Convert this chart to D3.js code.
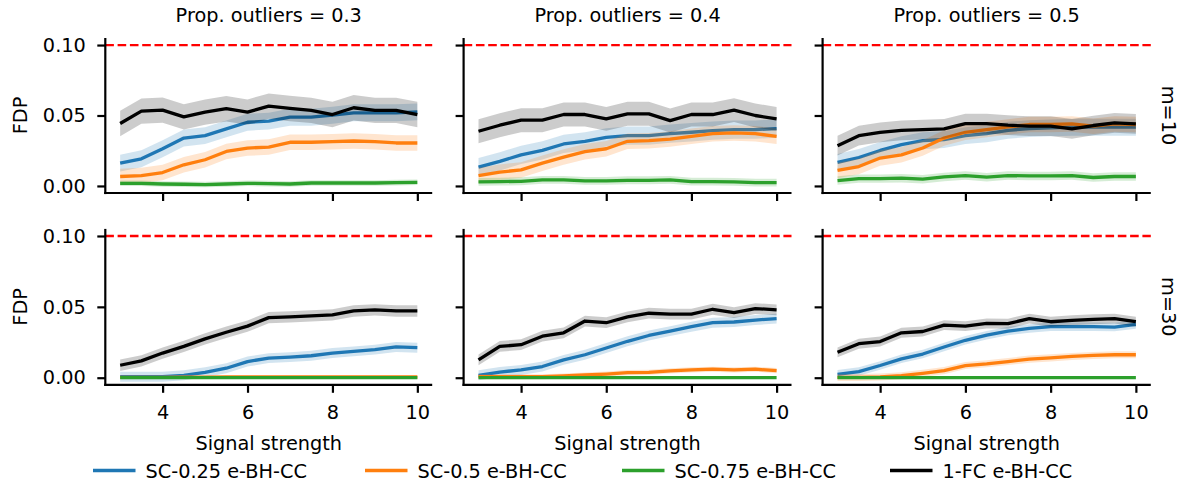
<!DOCTYPE html>
<html>
<head>
<meta charset="utf-8">
<script src="https://cdn.jsdelivr.net/npm/d3@7"></script>
<style>
  html, body { margin: 0; padding: 0; background: #fff; }
  svg { display: block; font-family: "DejaVu Sans", sans-serif; }
</style>
</head>
<body>
<svg id="chart" width="1188" height="488"></svg>
<script>
// ---------------- data ----------------
const signal = [3, 3.5, 4, 4.5, 5, 5.5, 6, 6.5, 7, 7.5, 8, 8.5, 9, 9.5, 10];
const propOutliers = ["0.3", "0.4", "0.5"];
const mValues = ["m=10", "m=30"];
const seriesNames = ["SC-0.25 e-BH-CC", "SC-0.5 e-BH-CC", "SC-0.75 e-BH-CC", "1-FC e-BH-CC"];
const seriesColors = ["#1f77b4", "#ff7f0e", "#2ca02c", "#000000"];
const xTicks = [4, 6, 8, 10];
const yTicks = [0.00, 0.05, 0.10];
const alphaLevel = 0.1;

// m=10, prop 0.3
const m10p3_sc025 = [0.0162, 0.0193, 0.0264, 0.0340, 0.0357, 0.0405, 0.0452, 0.0460, 0.0488, 0.0488, 0.0502, 0.0519, 0.0519, 0.0519, 0.0526];
const m10p3_sc05  = [0.0067, 0.0074, 0.0095, 0.0150, 0.0186, 0.0245, 0.0269, 0.0276, 0.0310, 0.0310, 0.0314, 0.0319, 0.0314, 0.0305, 0.0305];
const m10p3_sc075 = [0.0019, 0.0019, 0.0014, 0.0012, 0.0010, 0.0014, 0.0019, 0.0017, 0.0014, 0.0021, 0.0021, 0.0021, 0.0021, 0.0024, 0.0026];
const m10p3_fc    = [0.0443, 0.0531, 0.0538, 0.0490, 0.0524, 0.0548, 0.0524, 0.0567, 0.0550, 0.0536, 0.0507, 0.0555, 0.0536, 0.0536, 0.0507];
// m=10, prop 0.4
const m10p4_sc025 = [0.0133, 0.0174, 0.0221, 0.0252, 0.0298, 0.0317, 0.0345, 0.0357, 0.0357, 0.0371, 0.0381, 0.0393, 0.0400, 0.0400, 0.0407];
const m10p4_sc05  = [0.0074, 0.0098, 0.0114, 0.0162, 0.0205, 0.0243, 0.0264, 0.0317, 0.0321, 0.0333, 0.0352, 0.0371, 0.0376, 0.0371, 0.0352];
const m10p4_sc075 = [0.0029, 0.0031, 0.0033, 0.0043, 0.0043, 0.0036, 0.0036, 0.0040, 0.0040, 0.0043, 0.0031, 0.0031, 0.0029, 0.0024, 0.0024];
const m10p4_fc    = [0.0388, 0.0431, 0.0467, 0.0467, 0.0507, 0.0507, 0.0476, 0.0512, 0.0512, 0.0464, 0.0507, 0.0507, 0.0538, 0.0500, 0.0476];
// m=10, prop 0.5
const m10p5_sc025 = [0.0167, 0.0202, 0.0252, 0.0293, 0.0321, 0.0329, 0.0357, 0.0371, 0.0395, 0.0407, 0.0412, 0.0417, 0.0417, 0.0417, 0.0417];
const m10p5_sc05  = [0.0110, 0.0138, 0.0198, 0.0221, 0.0269, 0.0340, 0.0381, 0.0400, 0.0419, 0.0436, 0.0436, 0.0440, 0.0424, 0.0440, 0.0436];
const m10p5_sc075 = [0.0038, 0.0052, 0.0052, 0.0055, 0.0048, 0.0064, 0.0074, 0.0062, 0.0074, 0.0071, 0.0071, 0.0074, 0.0060, 0.0067, 0.0067];
const m10p5_fc    = [0.0286, 0.0357, 0.0381, 0.0395, 0.0400, 0.0405, 0.0443, 0.0443, 0.0431, 0.0424, 0.0424, 0.0405, 0.0429, 0.0448, 0.0440];
// m=30, prop 0.3
const m30p3_sc025 = [0.0007, 0.0007, 0.0007, 0.0017, 0.0038, 0.0067, 0.0114, 0.0138, 0.0145, 0.0155, 0.0174, 0.0186, 0.0198, 0.0217, 0.0212];
const m30p3_sc05  = [0.0003, 0.0003, 0.0003, 0.0004, 0.0004, 0.0005, 0.0005, 0.0005, 0.0005, 0.0005, 0.0005, 0.0005, 0.0005, 0.0005, 0.0005];
const m30p3_sc075 = [0, 0, 0, 0, 0, 0, 0, 0, 0, 0, 0, 0, 0, 0, 0];
const m30p3_fc    = [0.0088, 0.0119, 0.0174, 0.0221, 0.0274, 0.0321, 0.0364, 0.0424, 0.0429, 0.0436, 0.0443, 0.0471, 0.0479, 0.0471, 0.0471];
// m=30, prop 0.4
const m30p4_sc025 = [0.0017, 0.0040, 0.0055, 0.0079, 0.0126, 0.0162, 0.0210, 0.0257, 0.0298, 0.0329, 0.0360, 0.0388, 0.0393, 0.0407, 0.0417];
const m30p4_sc05  = [0.0007, 0.0007, 0.0007, 0.0007, 0.0012, 0.0019, 0.0026, 0.0036, 0.0038, 0.0048, 0.0055, 0.0060, 0.0055, 0.0060, 0.0050];
const m30p4_sc075 = [0, 0, 0, 0, 0, 0, 0, 0, 0, 0, 0, 0, 0, 0, 0];
const m30p4_fc    = [0.0126, 0.0221, 0.0233, 0.0293, 0.0317, 0.0400, 0.0388, 0.0429, 0.0455, 0.0448, 0.0448, 0.0483, 0.0460, 0.0488, 0.0479];
// m=30, prop 0.5
const m30p5_sc025 = [0.0024, 0.0043, 0.0086, 0.0133, 0.0167, 0.0217, 0.0264, 0.0300, 0.0329, 0.0348, 0.0360, 0.0360, 0.0360, 0.0357, 0.0376];
const m30p5_sc05  = [0.0002, 0.0002, 0.0005, 0.0014, 0.0031, 0.0050, 0.0086, 0.0098, 0.0114, 0.0131, 0.0140, 0.0150, 0.0157, 0.0162, 0.0162];
const m30p5_sc075 = [0, 0, 0, 0, 0, 0, 0, 0, 0, 0, 0, 0, 0, 0, 0];
const m30p5_fc    = [0.0179, 0.0240, 0.0255, 0.0317, 0.0326, 0.0371, 0.0364, 0.0383, 0.0381, 0.0417, 0.0395, 0.0405, 0.0412, 0.0417, 0.0395];

// confidence band half-widths per panel, per series (blue, orange, green, black)
const band_m10p3 = [0.0060, 0.0055, 0.0020, 0.0090];
const band_m10p4 = [0.0065, 0.0055, 0.0028, 0.0085];
const band_m10p5 = [0.0060, 0.0055, 0.0030, 0.0070];
const band_m30p3 = [0.0035, 0.0008, 0.0000, 0.0040];
const band_m30p4 = [0.0035, 0.0018, 0.0000, 0.0038];
const band_m30p5 = [0.0030, 0.0025, 0.0000, 0.0035];

const panels = [
  { row: 0, col: 0, series: [m10p3_sc025, m10p3_sc05, m10p3_sc075, m10p3_fc], band: band_m10p3 },
  { row: 0, col: 1, series: [m10p4_sc025, m10p4_sc05, m10p4_sc075, m10p4_fc], band: band_m10p4 },
  { row: 0, col: 2, series: [m10p5_sc025, m10p5_sc05, m10p5_sc075, m10p5_fc], band: band_m10p5 },
  { row: 1, col: 0, series: [m30p3_sc025, m30p3_sc05, m30p3_sc075, m30p3_fc], band: band_m30p3 },
  { row: 1, col: 1, series: [m30p4_sc025, m30p4_sc05, m30p4_sc075, m30p4_fc], band: band_m30p4 },
  { row: 1, col: 2, series: [m30p5_sc025, m30p5_sc05, m30p5_sc075, m30p5_fc], band: band_m30p5 },
];

// ---------------- layout ----------------
const colX = [[105.3, 432.2], [463.6, 791.5], [822.6, 1150.8]];
const rowY = [[193.0, 38.0], [384.8, 228.9]];
const xDomain = [2.65, 10.35];
const yDomain = [-0.005, 0.105];
const fontSize = 19.3;

const svg = d3.select("#chart");

panels.forEach(p => {
  const x = d3.scaleLinear().domain(xDomain).range(colX[p.col]);
  const y = d3.scaleLinear().domain(yDomain).range(rowY[p.row]);
  const g = svg.append("g");

  // reference line
  g.append("line")
    .attr("x1", x(xDomain[0])).attr("x2", x(xDomain[1]))
    .attr("y1", y(alphaLevel)).attr("y2", y(alphaLevel))
    .attr("stroke", "#ff0000").attr("stroke-width", 2.3)
    .attr("stroke-dasharray", "8.6,3.7");

  p.series.forEach((vals, si) => {
    const e = p.band[si];
    const pts = signal.map((s, i) => ({ s, v: vals[i] }));
    if (e > 0) {
      const area = d3.area()
        .x(d => x(d.s))
        .y0(d => y(d.v - e))
        .y1(d => y(d.v + e));
      g.append("path").datum(pts)
        .attr("d", area)
        .attr("fill", seriesColors[si])
        .attr("fill-opacity", 0.2);
    }
    const line = d3.line().x(d => x(d.s)).y(d => y(d.v));
    g.append("path").datum(pts)
      .attr("d", line)
      .attr("fill", "none")
      .attr("stroke", seriesColors[si])
      .attr("stroke-width", 3.3)
      .attr("stroke-linejoin", "round")
      .attr("stroke-linecap", "butt");
  });

  // axes
  const xAxis = d3.axisBottom(x).tickValues(xTicks).tickSize(8).tickPadding(13)
    .tickFormat(p.row === 1 ? d3.format("d") : () => "");
  const gx = g.append("g").attr("transform", `translate(0,${rowY[p.row][0]})`).call(xAxis);
  const yAxis = d3.axisLeft(y).tickValues(yTicks).tickSize(8).tickPadding(11.5)
    .tickFormat(p.col === 0 ? d3.format(".2f") : () => "");
  const gy = g.append("g").attr("transform", `translate(${colX[p.col][0]},0)`).call(yAxis);
  [gx, gy].forEach(ax => {
    ax.select(".domain").attr("stroke", "#000").attr("stroke-width", 2.2).attr("d",
      ax === gx ? `M${colX[p.col][0] - 1.1},0H${colX[p.col][1]}` : `M0,${rowY[p.row][0] + 1.1}V${rowY[p.row][1]}`);
    ax.selectAll(".tick line").attr("stroke", "#000").attr("stroke-width", 2.2);
    ax.selectAll(".tick text").attr("fill", "#000").attr("dy", p.row === 1 && ax === gx ? "0.71em" : "0.32em")
      .style("font-size", fontSize + "px").style("font-family", "DejaVu Sans");
  });

  // column titles
  if (p.row === 0) {
    g.append("text")
      .attr("x", (colX[p.col][0] + colX[p.col][1]) / 2).attr("y", 22)
      .attr("text-anchor", "middle").style("font-size", fontSize + "px")
      .text("Prop. outliers = " + propOutliers[p.col]);
  }
  // x labels
  if (p.row === 1) {
    g.append("text")
      .attr("x", (colX[p.col][0] + colX[p.col][1]) / 2).attr("y", 450)
      .attr("text-anchor", "middle").style("font-size", fontSize + "px")
      .text("Signal strength");
  }
  // y labels
  if (p.col === 0) {
    const cy = (rowY[p.row][0] + rowY[p.row][1]) / 2;
    g.append("text")
      .attr("transform", `translate(26.5,${cy}) rotate(-90)`)
      .attr("text-anchor", "middle").style("font-size", fontSize + "px")
      .text("FDP");
  }
  // row labels
  if (p.col === 2) {
    const cy = (rowY[p.row][0] + rowY[p.row][1]) / 2;
    g.append("text")
      .attr("transform", `translate(1161.5,${cy}) rotate(90)`)
      .attr("text-anchor", "middle").style("font-size", fontSize + "px")
      .text(mValues[p.row]);
  }
});

// legend
const legendX = [93, 365, 622, 890];
const legend = svg.append("g");
seriesNames.forEach((name, i) => {
  legend.append("line")
    .attr("x1", legendX[i]).attr("x2", legendX[i] + 42.5)
    .attr("y1", 470.5).attr("y2", 470.5)
    .attr("stroke", seriesColors[i]).attr("stroke-width", 3.3);
  legend.append("text")
    .attr("x", legendX[i] + 52.5).attr("y", 477.5)
    .style("font-size", fontSize + "px")
    .text(name);
});
</script>
</body>
</html>
